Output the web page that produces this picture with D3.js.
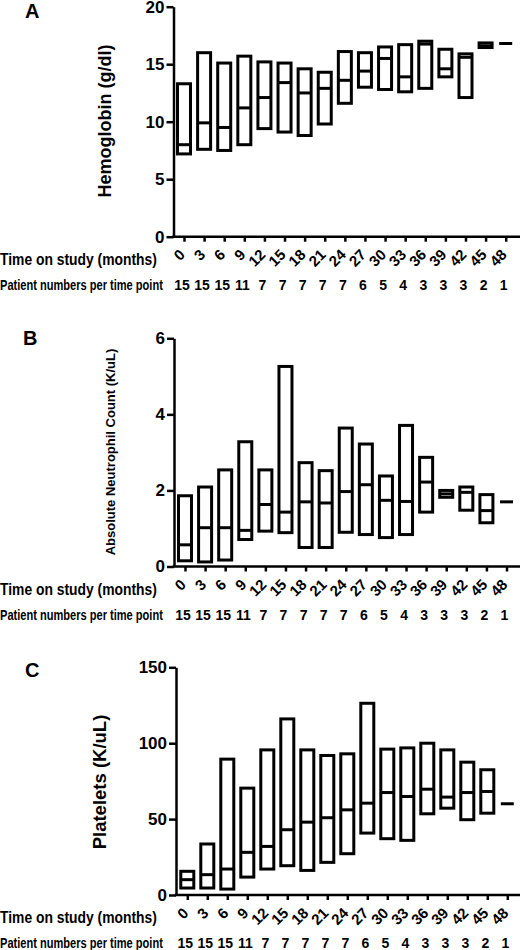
<!DOCTYPE html>
<meta charset="utf-8">
<html>
<head>
<style>
  body { margin: 0; background: #fff; }
  svg text { font-family: Arial, "Liberation Sans", sans-serif; font-weight: bold; fill: #000; }
</style>
</head>
<body>
<div id="my_dataviz"></div>
<script src="https://d3js.org/d3.v7.min.js"></script>
<script>
// time points and patient counts (shared by the three panels)
var months = [0, 3, 6, 9, 12, 15, 18, 21, 24, 27, 30, 33, 36, 39, 42, 45, 48];
var patients = [15, 15, 15, 11, 7, 7, 7, 7, 7, 6, 5, 4, 3, 3, 3, 2, 1];

// A - hemoglobin (g/dl)
var hgbMax = [13.3, 16.0, 15.1, 15.7, 15.2, 15.1, 14.6, 14.3, 16.1, 16.0, 16.5, 16.7, 17.0, 16.3, 15.9, 16.85, 16.8];
var hgbMed = [8.0, 9.9, 9.5, 11.2, 12.1, 13.4, 12.5, 12.9, 13.6, 14.4, 15.5, 13.9, 16.75, 14.6, 15.6, 16.6, 16.8];
var hgbMin = [7.2, 7.6, 7.5, 8.0, 9.4, 9.1, 8.8, 9.8, 11.6, 13.0, 12.8, 12.6, 12.9, 13.9, 12.1, 16.45, 16.8];

// B - absolute neutrophil count (K/uL)
var ancMax = [1.86, 2.09, 2.54, 3.28, 2.54, 5.26, 2.73, 2.52, 3.64, 3.22, 2.38, 3.71, 2.87, 2.0, 2.09, 1.89, 1.70];
var ancMed = [0.57, 1.02, 1.02, 0.95, 1.63, 1.43, 1.70, 1.67, 1.97, 2.15, 1.74, 1.71, 2.22, 1.91, 1.95, 1.47, 1.70];
var ancMin = [0.15, 0.12, 0.17, 0.71, 0.93, 0.89, 0.50, 0.50, 0.90, 0.84, 0.76, 0.84, 1.43, 1.82, 1.48, 1.15, 1.70];

// C - platelets (K/uL)
var pltMax = [15.6, 33.6, 89.5, 70.4, 95.6, 116.0, 95.6, 91.9, 93.0, 126.3, 96.1, 96.9, 100.0, 95.6, 87.5, 82.5, 60.1];
var pltMed = [10.1, 13.4, 17.1, 28.1, 32.0, 43.0, 48.0, 50.9, 56.1, 60.5, 67.5, 64.9, 69.7, 64.5, 67.5, 68.2, 60.1];
var pltMin = [4.6, 4.6, 3.9, 11.8, 17.1, 19.3, 16.2, 21.5, 27.2, 40.8, 37.1, 36.0, 53.5, 57.2, 49.6, 53.9, 60.1];

var svg = d3.select("#my_dataviz")
  .append("svg")
    .attr("width", 520)
    .attr("height", 950);

// narrow a text horizontally so it fits a given width (figure text is condensed)
function squeeze(sel, x, y, width) {
  var w = sel.node().getComputedTextLength();
  sel.attr("transform", "translate(" + x + "," + y + ") scale(" + (width / w) + ",1)");
}

function drawPanel(p) {
  var g = svg.append("g");
  var y = d3.scaleLinear().domain(p.domain).range([p.y0, p.yTop]);
  var x = d3.scalePoint().domain(months).range([p.xFirst, p.xLast]);

  // panel letter
  g.append("text").attr("x", p.letterX).attr("y", p.letterY)
    .style("font-size", "20px").text(p.letter);

  // y axis
  var yAxis = g.append("g")
    .attr("transform", "translate(" + p.axisX + ",0)")
    .call(d3.axisLeft(y).tickValues(p.ticks).tickFormat(d3.format("d"))
      .tickSize(7).tickSizeOuter(0).tickPadding(2));
  yAxis.select(".domain").attr("stroke", "#000").attr("stroke-width", 2.5);
  yAxis.selectAll(".tick line").attr("stroke", "#000").attr("stroke-width", 2.5);
  yAxis.selectAll("text").style("font-size", "17px").attr("fill", "#000");

  g.append("text")
    .attr("transform", "translate(" + p.labelX + "," + p.labelY + ") rotate(-90)")
    .attr("text-anchor", "middle")
    .style("font-size", p.labelSize + "px")
    .text(p.label);

  // x axis
  var xAxis = g.append("g")
    .attr("transform", "translate(0," + p.y0 + ")")
    .call(d3.axisBottom(x).tickSize(5).tickSizeOuter(0));
  xAxis.select(".domain").remove();
  xAxis.selectAll(".tick line").attr("stroke", "#000").attr("stroke-width", 2.5);
  xAxis.selectAll("text")
    .attr("y", 0).attr("dy", "0")
    .attr("text-anchor", "end")
    .attr("transform", "translate(1.5,19) rotate(-45)")
    .attr("fill", "#000")
    .style("font-size", "15px");
  g.append("line")
    .attr("x1", p.axisX - 1.25).attr("x2", 520)
    .attr("y1", p.y0).attr("y2", p.y0)
    .attr("stroke", "#000").attr("stroke-width", 2.5);

  var t1 = g.append("text").style("font-size", "17px").text("Time on study (months)");
  squeeze(t1, 0, p.y0 + 28, 157);
  var t2 = g.append("text").style("font-size", "14px").text("Patient numbers per time point");
  squeeze(t2, 0, p.y0 + 53, 163);

  g.selectAll(".pn").data(patients).join("text")
    .attr("class", "pn")
    .attr("x", function(d, i) { return x(months[i]) - 2; })
    .attr("y", p.y0 + 53)
    .attr("text-anchor", "middle")
    .style("font-size", "14px")
    .text(function(d) { return d; });

  // floating bars: min to max, line at median
  var idx = d3.range(months.length);
  g.selectAll(".box").data(idx.filter(function(i) { return p.max[i] > p.min[i]; })).join("rect")
    .attr("class", "box")
    .attr("x", function(i) { return x(months[i]) - 6.5; })
    .attr("width", 13)
    .attr("y", function(i) { return y(p.max[i]); })
    .attr("height", function(i) { return y(p.min[i]) - y(p.max[i]); })
    .attr("fill", "none")
    .attr("stroke", "#000")
    .attr("stroke-width", 3);
  g.selectAll(".med").data(idx).join("line")
    .attr("class", "med")
    .attr("x1", function(i) { return x(months[i]) - 6.5; })
    .attr("x2", function(i) { return x(months[i]) + 6.5; })
    .attr("y1", function(i) { return y(p.med[i]); })
    .attr("y2", function(i) { return y(p.med[i]); })
    .attr("stroke", "#000")
    .attr("stroke-width", 3);
}

drawPanel({
  letter: "A", letterX: 25, letterY: 18,
  axisX: 173.5, y0: 236.7, yTop: 6.7, domain: [0, 20], ticks: [0, 5, 10, 15, 20],
  xFirst: 184, xLast: 505.7,
  label: "Hemoglobin (g/dl)", labelSize: 18, labelX: 111, labelY: 121,
  max: hgbMax, med: hgbMed, min: hgbMin
});

drawPanel({
  letter: "B", letterX: 23, letterY: 345,
  axisX: 174, y0: 566.5, yTop: 338.3, domain: [0, 6], ticks: [0, 2, 4, 6],
  xFirst: 185, xLast: 506.5,
  label: "Absolute Neutrophil Count (K/uL)", labelSize: 13, labelX: 115, labelY: 452,
  max: ancMax, med: ancMed, min: ancMin
});

drawPanel({
  letter: "C", letterX: 25, letterY: 677,
  axisX: 176, y0: 895, yTop: 667.3, domain: [0, 150], ticks: [0, 50, 100, 150],
  xFirst: 187.3, xLast: 507.3,
  label: "Platelets (K/uL)", labelSize: 18.5, labelX: 106, labelY: 782,
  max: pltMax, med: pltMed, min: pltMin
});
</script>
</body>
</html>
